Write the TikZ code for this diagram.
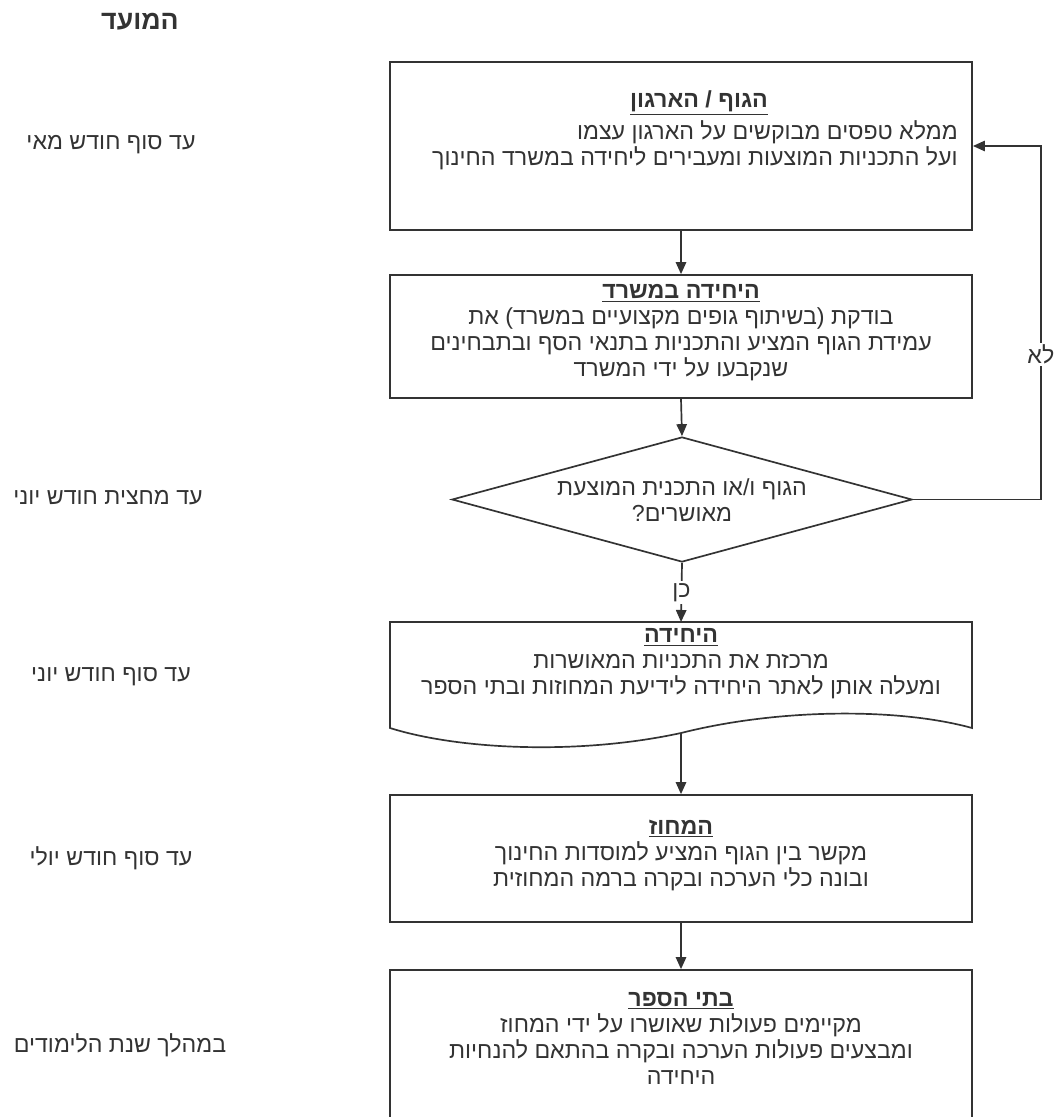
\documentclass[tikz,border=0pt]{standalone}
\usepackage{fontspec}
\setmainfont{Liberation Sans}
\newfontfamily\hebfont[Script=Hebrew]{Liberation Sans}
\TeXXeTstate=1
\usetikzlibrary{arrows.meta,shapes.geometric}
\newcommand{\heb}[1]{\beginR#1\endR}
\newcommand{\tit}[1]{\underline{\bfseries\beginR#1\endR}}

\begin{document}
\begin{tikzpicture}[x=0.025cm,y=-0.025cm,
    blocco/.style={draw=black!80, line width=1.2pt, minimum width=14.55cm, inner sep=0pt},
    testo/.style={font=\hebfont\fontsize{16.5}{18.5}\selectfont, text=black!80, align=center, inner sep=0pt},
    freccia/.style={draw=black!80, line width=1.2pt, -{Triangle[length=3mm,width=2.6mm]}},
    etichetta/.style={font=\hebfont\fontsize{16.5}{18.5}\selectfont, text=black!80, fill=white, inner sep=1.5pt}]
    \useasboundingbox (0,0) rectangle (1064,1117);

    % Colonna delle date
    \node[testo, font=\hebfont\bfseries\fontsize{19}{22}\selectfont] (moed) at (140,22) {\heb{המועד}};
    \node[testo] (d1) at (111,145) {\heb{עד סוף חודש מאי}};
    \node[testo] (d2) at (108,498) {\heb{עד מחצית חודש יוני}};
    \node[testo] (d3) at (111,677) {\heb{עד סוף חודש יוני}};
    \node[testo] (d4) at (111,858) {\heb{עד סוף חודש יולי}};
    \node[testo] (d5) at (120,1045) {\heb{במהלך שנת הלימודים}};

    % Blocchi
    \node[blocco, minimum height=4.2cm] (org) at (681,146) {};
    \node[testo] (orgtit) at (699,103) {\tit{הגוף / הארגון}};
    \node[testo, align=right, anchor=east] (orgtxt) at (958,145) {\heb{ממלא טפסים מבוקשים על הארגון עצמו}\\ \heb{ועל התכניות המוצעות ומעבירים ליחידה במשרד החינוך}};

    \node[blocco, minimum height=3.075cm] (unit) at (681,336.5) {};
    \node[testo] (unittxt) at (681,333) {\tit{היחידה במשרד}\\ \heb{בודקת (בשיתוף גופים מקצועיים במשרד) את}\\ \heb{עמידת הגוף המציע והתכניות בתנאי הסף ובתבחינים}\\ \heb{שנקבעו על ידי המשרד}};

    \node[draw=black!80, line width=1.2pt, diamond, minimum width=11.5cm, minimum height=3.125cm, inner sep=0pt] (check) at (682,499.5) {};
    \node[testo] (checktxt) at (682,500) {\heb{הגוף ו/או התכנית המוצעת}\\ ?\heb{מאושרים}};

    % Documento
    \coordinate (pubtop) at (681,622); \coordinate (pubbot) at (681,733);
    \draw[draw=black!80, line width=1.2pt] (390,622) -- (972,622) -- (972,728)
        .. controls (900,708) and (780,708) .. (pubbot)
        .. controls (580,755) and (460,750) .. (390,728) -- cycle;
    \node[testo] (pubtxt) at (681,664) {\tit{היחידה}\\ \heb{מרכזת את התכניות המאושרות}\\ \heb{ומעלה אותן לאתר היחידה לידיעת המחוזות ובתי הספר}};

    \node[blocco, minimum height=3.175cm] (district) at (681,858.5) {};
    \node[testo] (districttxt) at (681,855) {\tit{המחוז}\\ \heb{מקשר בין הגוף המציע למוסדות החינוך}\\ \heb{ובונה כלי הערכה ובקרה ברמה המחוזית}};

    \node[blocco, minimum height=4cm] (schools) at (681,1050) {};
    \node[testo] (schoolstxt) at (681,1038) {\tit{בתי הספר}\\ \heb{מקיימים פעולות שאושרו על ידי המחוז}\\ \heb{ומבצעים פעולות הערכה ובקרה בהתאם להנחיות}\\ \heb{היחידה}};

    % Frecce
    \draw[freccia] (org.south) -- (unit.north);
    \draw[freccia] (unit.south) -- (check.north);
    \draw[freccia] (check.south) -- (pubtop) node[etichetta, midway] (si) {\heb{כן}};
    \draw[freccia] (pubbot) -- (district.north);
    \draw[freccia] (district.south) -- (schools.north);
    \draw[freccia] (check.east) -- ++(128,0) coordinate (giro) |- (org.east) node[etichetta, pos=0.205] (no) {\heb{לא}};
\end{tikzpicture}
\end{document}
